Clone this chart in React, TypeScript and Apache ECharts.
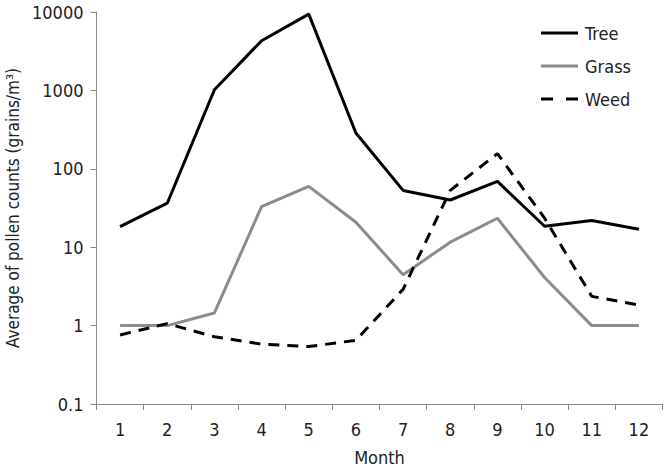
import React, { useEffect, useRef } from "react";
import * as echarts from "echarts";

const months = ["1", "2", "3", "4", "5", "6", "7", "8", "9", "10", "11", "12"];
const treeValues = [18.3, 36.4, 1020, 4300, 9400, 286, 53, 40, 69, 18.5, 21.9, 16.9];
const grassValues = [1, 1, 1.45, 33, 59.6, 20.8, 4.46, 11.6, 23.4, 4.1, 1, 1];
const weedValues = [0.76, 1.06, 0.72, 0.58, 0.54, 0.65, 2.9, 53, 156, 23.5, 2.36, 1.83];
const yTicks = [0.1, 1, 10, 100, 1000, 10000];
const seriesNames = ["Tree", "Grass", "Weed"];

const FONT = "'Liberation Sans Narrow', 'DejaVu Sans Condensed', 'Roboto', sans-serif";
const AXIS_COLOR = "#8a8a8a";
const TEXT_COLOR = "#222";
const GRASS_COLOR = "#8c8c8c";

export default function App() {
  const ref = useRef<HTMLDivElement>(null);
  useEffect(() => {
    if (!ref.current) return;
    const chart = echarts.init(ref.current, null, { renderer: "svg" });
    chart.setOption({
      animation: false,
      textStyle: { fontFamily: FONT },
      grid: { left: 96.5, right: 4.5, top: 12, bottom: 66, containLabel: false, outerBoundsMode: "none" },
      legend: {
        orient: "vertical",
        left: 536,
        top: 18,
        itemWidth: 37,
        itemHeight: 3,
        itemGap: 13,
        textStyle: { fontFamily: FONT, fontSize: 18, lineHeight: 20, color: TEXT_COLOR, padding: [0, 0, 0, 2] },
        data: [
          { name: seriesNames[0], icon: "rect", itemStyle: { color: "#000" } },
          { name: seriesNames[1], icon: "rect", itemStyle: { color: GRASS_COLOR } },
          {
            name: seriesNames[2],
            icon: "path://M0,0h12v3h-12z M25,0h12v3h-12z",
            itemStyle: { color: "#000" },
          },
        ],
      },
      xAxis: {
        type: "category",
        data: months,
        boundaryGap: true,
        name: "Month",
        nameLocation: "middle",
        nameGap: 44,
        nameTextStyle: { fontFamily: FONT, fontSize: 18, color: TEXT_COLOR },
        axisLine: { lineStyle: { color: AXIS_COLOR, width: 1 } },
        axisTick: { show: true, length: 6, inside: false, alignWithLabel: false, lineStyle: { color: AXIS_COLOR } },
        axisLabel: { fontFamily: FONT, fontSize: 18, color: TEXT_COLOR, margin: 16 },
        splitLine: { show: false },
      },
      yAxis: {
        type: "log",
        logBase: 10,
        min: yTicks[0],
        max: yTicks[yTicks.length - 1],
        name: "Average of pollen counts (grains/m³)",
        nameLocation: "middle",
        nameGap: 72,
        nameTextStyle: { fontFamily: FONT, fontSize: 17, color: TEXT_COLOR },
        axisLine: { show: true, lineStyle: { color: AXIS_COLOR, width: 1 } },
        axisTick: { show: true, length: 6, lineStyle: { color: AXIS_COLOR } },
        axisLabel: {
          fontFamily: FONT,
          fontSize: 18,
          color: TEXT_COLOR,
          margin: 13,
          formatter: (v: number) => String(Number(v.toPrecision(6))),
        },
        splitLine: { show: false },
        minorTick: { show: false },
      },
      series: [
        {
          name: seriesNames[0],
          type: "line",
          data: treeValues,
          symbol: "none",
          lineStyle: { color: "#000", width: 3 },
          itemStyle: { color: "#000" },
        },
        {
          name: seriesNames[1],
          type: "line",
          data: grassValues,
          symbol: "none",
          lineStyle: { color: GRASS_COLOR, width: 3 },
          itemStyle: { color: GRASS_COLOR },
        },
        {
          name: seriesNames[2],
          type: "line",
          data: weedValues,
          symbol: "none",
          lineStyle: { color: "#000", width: 3, type: [11, 8] },
          itemStyle: { color: "#000" },
        },
      ],
    });
    return () => chart.dispose();
  }, []);
  return <div ref={ref} style={{ width: 667, height: 470, position: "absolute", left: 0, top: 0 }} />;
}
